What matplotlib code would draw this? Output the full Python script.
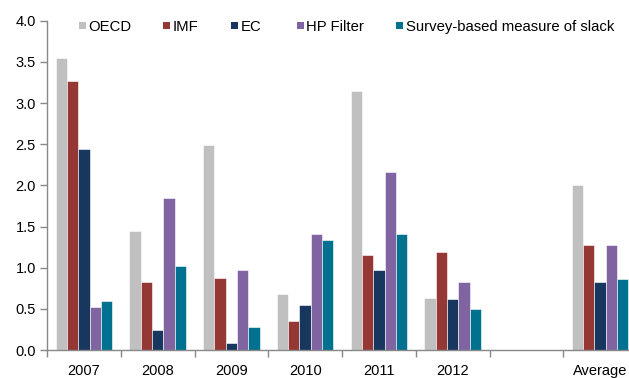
import matplotlib
matplotlib.use("Agg")
import matplotlib.pyplot as plt
from matplotlib.patches import Rectangle
import numpy as np

plt.rcParams['font.family'] = ['Liberation Sans', 'DejaVu Sans']

categories = ["2007", "2008", "2009", "2010", "2011", "2012", "", "Average"]
series_names = ["OECD", "IMF", "EC", "HP Filter", "Survey-based measure of slack"]
oecd = [3.55, 1.44, 2.49, 0.68, 3.15, 0.63, np.nan, 2.00]
imf = [3.27, 0.82, 0.87, 0.35, 1.16, 1.19, np.nan, 1.27]
ec = [2.44, 0.24, 0.09, 0.55, 0.97, 0.62, np.nan, 0.82]
hp_filter = [0.52, 1.85, 0.97, 1.41, 2.16, 0.82, np.nan, 1.27]
survey = [0.60, 1.02, 0.28, 1.34, 1.41, 0.50, np.nan, 0.86]
colors = ["#C0C0C0", "#953735", "#17375E", "#8064A2", "#00728F"]

W, H = 629, 378
fig = plt.figure(figsize=(W / 100, H / 100), dpi=100)
ax = fig.add_axes([47 / W, 1 - 350 / H, 590 / W, (350 - 20.7) / H])

x = np.arange(len(categories))
width = 0.153
all_series = [oecd, imf, ec, hp_filter, survey]
for i, (vals, name, c) in enumerate(zip(all_series, series_names, colors)):
    ax.bar(x + (i - 2) * width, vals, width, color=c, label=name,
           edgecolor="white", linewidth=0.4)

ax.set_xlim(-0.5, len(categories) - 0.5)
ax.set_ylim(0, 4.0)
ax.set_yticks(np.arange(0, 4.01, 0.5))
ax.set_yticklabels([f"{v:.1f}" for v in np.arange(0, 4.01, 0.5)])

# category labels centred in slots, tick marks on slot boundaries
ax.set_xticks(x)
ax.set_xticklabels(categories)
ax.tick_params(axis="x", which="major", length=0, pad=10)
ax.set_xticks(np.arange(-0.5, len(categories), 1.0), minor=True)
ax.tick_params(axis="x", which="minor", length=5, color="#888888", width=1)
ax.tick_params(axis="y", length=5, color="#888888", width=1, pad=3)
ax.tick_params(labelsize=10.5, labelcolor="black")

for s in ["top", "right"]:
    ax.spines[s].set_visible(False)
for s in ["left", "bottom"]:
    ax.spines[s].set_color("#888888")
    ax.spines[s].set_linewidth(1)

# single-row legend: small square swatch followed by its label
legend_x = [79, 163, 231, 297, 396]
legend_y = 25.5
sq = 7
for lx, name, c in zip(legend_x, series_names, colors):
    fig.patches.append(Rectangle(((lx) / W, 1 - (legend_y + sq / 2) / H),
                                 sq / W, sq / H, transform=fig.transFigure,
                                 facecolor=c, edgecolor="none"))
    fig.text((lx + sq + 2.5) / W, 1 - legend_y / H, name, fontsize=10.7,
             ha="left", va="center_baseline", color="black")

fig.savefig("out.png", dpi=100)
